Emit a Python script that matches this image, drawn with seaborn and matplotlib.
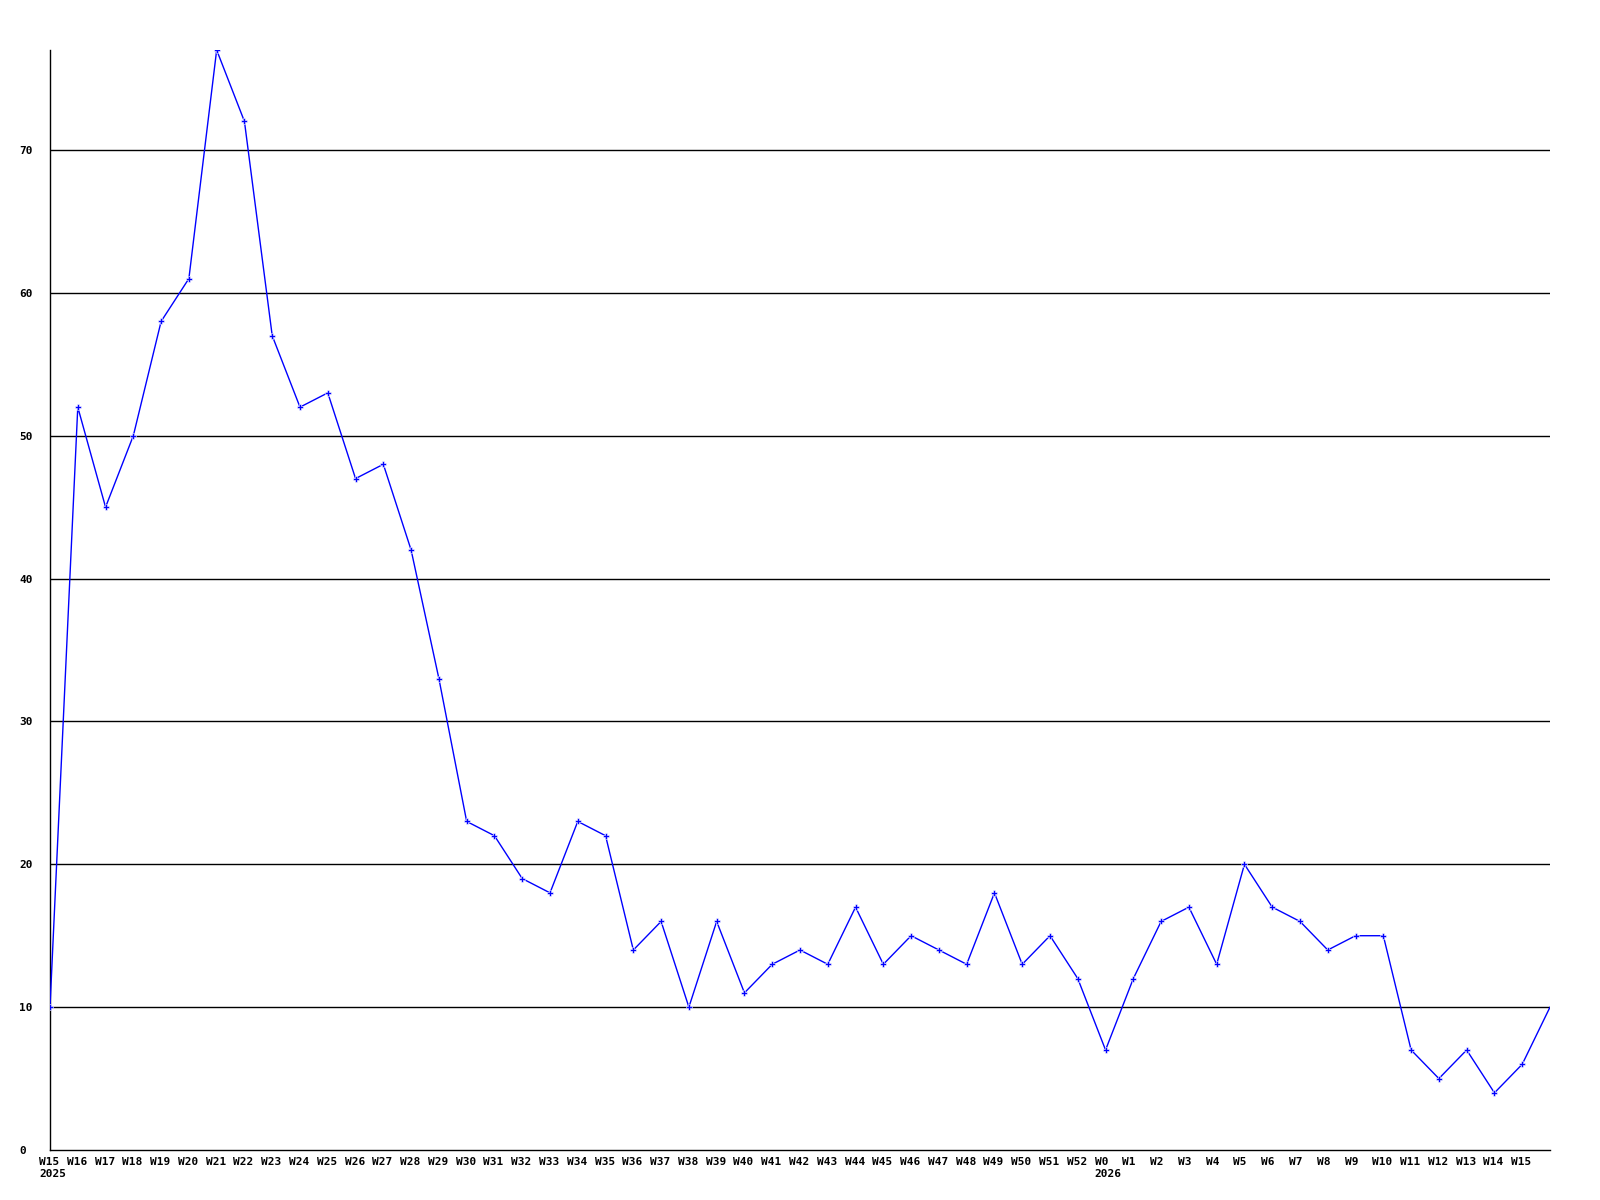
import matplotlib
matplotlib.use("Agg")
import matplotlib.pyplot as plt
import matplotlib.transforms as mtransforms
import seaborn as sns
import pandas as pd
import numpy as np

# weekly counts, W15 2025 .. W15 2026, plus the unlabelled last point
weeks = ["W15", "W16", "W17", "W18", "W19", "W20", "W21", "W22", "W23", "W24",
         "W25", "W26", "W27", "W28", "W29", "W30", "W31", "W32", "W33", "W34",
         "W35", "W36", "W37", "W38", "W39", "W40", "W41", "W42", "W43", "W44",
         "W45", "W46", "W47", "W48", "W49", "W50", "W51", "W52",
         "W0", "W1", "W2", "W3", "W4", "W5", "W6", "W7", "W8", "W9",
         "W10", "W11", "W12", "W13", "W14", "W15", ""]
counts = [10, 52, 45, 50, 58, 61, 77, 72, 57, 52,
          53, 47, 48, 42, 33, 23, 22, 19, 18, 23,
          22, 14, 16, 10, 16, 11, 13, 14, 13, 17,
          13, 15, 14, 13, 18, 13, 15, 12,
          7, 12, 16, 17, 13, 20, 17, 16, 14, 15,
          15, 7, 5, 7, 4, 6, 10]
year_labels = {0: "2025", 38: "2026"}
y_ticks = [0, 10, 20, 30, 40, 50, 60, 70]

df = pd.DataFrame({"idx": np.arange(len(counts)), "count": counts})

sns.set_style("white")
plt.rcParams["font.family"] = ["DejaVu Sans Mono"]

fig = plt.figure(figsize=(16, 12), dpi=100)
ax = fig.add_axes([50 / 1600, 50 / 1200, 1500 / 1600, 1100 / 1200])

for t in y_ticks[1:]:
    ax.axhline(t, color="black", lw=1.0, zorder=1)

sns.lineplot(data=df, x="idx", y="count", ax=ax, color="#0000ff", lw=1.0,
             marker="P", markersize=5, markeredgewidth=0.4,
             markevery=list(range(len(counts) - 1)), zorder=3)

ax.set_xlim(0, len(counts) - 1)
ax.set_ylim(0, 77)

# week labels: left-aligned a little before each point, year under the first week
ax.set_xticks([])
base = mtransforms.blended_transform_factory(ax.transData, ax.transAxes)
shift = mtransforms.ScaledTranslation(-11 / 100, -7 / 100, fig.dpi_scale_trans)
for i, w in enumerate(weeks):
    txt = w + "\n" + year_labels[i] if i in year_labels else w
    ax.text(i, 0, txt, transform=base + shift, ha="left", va="top",
            fontsize=8, fontweight="bold", color="black", linespacing=1.3)

ax.set_yticks(y_ticks)
ax.set_yticklabels([str(v) for v in y_ticks], fontsize=8, fontweight="bold",
                   color="black")
for lab in ax.get_yticklabels():
    lab.set_horizontalalignment("left")
ax.tick_params(axis="y", length=0, pad=22)

ax.set_xlabel("")
ax.set_ylabel("")
for side in ["top", "right"]:
    ax.spines[side].set_visible(False)
for side in ["left", "bottom"]:
    ax.spines[side].set_color("black")
    ax.spines[side].set_linewidth(1.0)

fig.savefig("out.png", dpi=100)
